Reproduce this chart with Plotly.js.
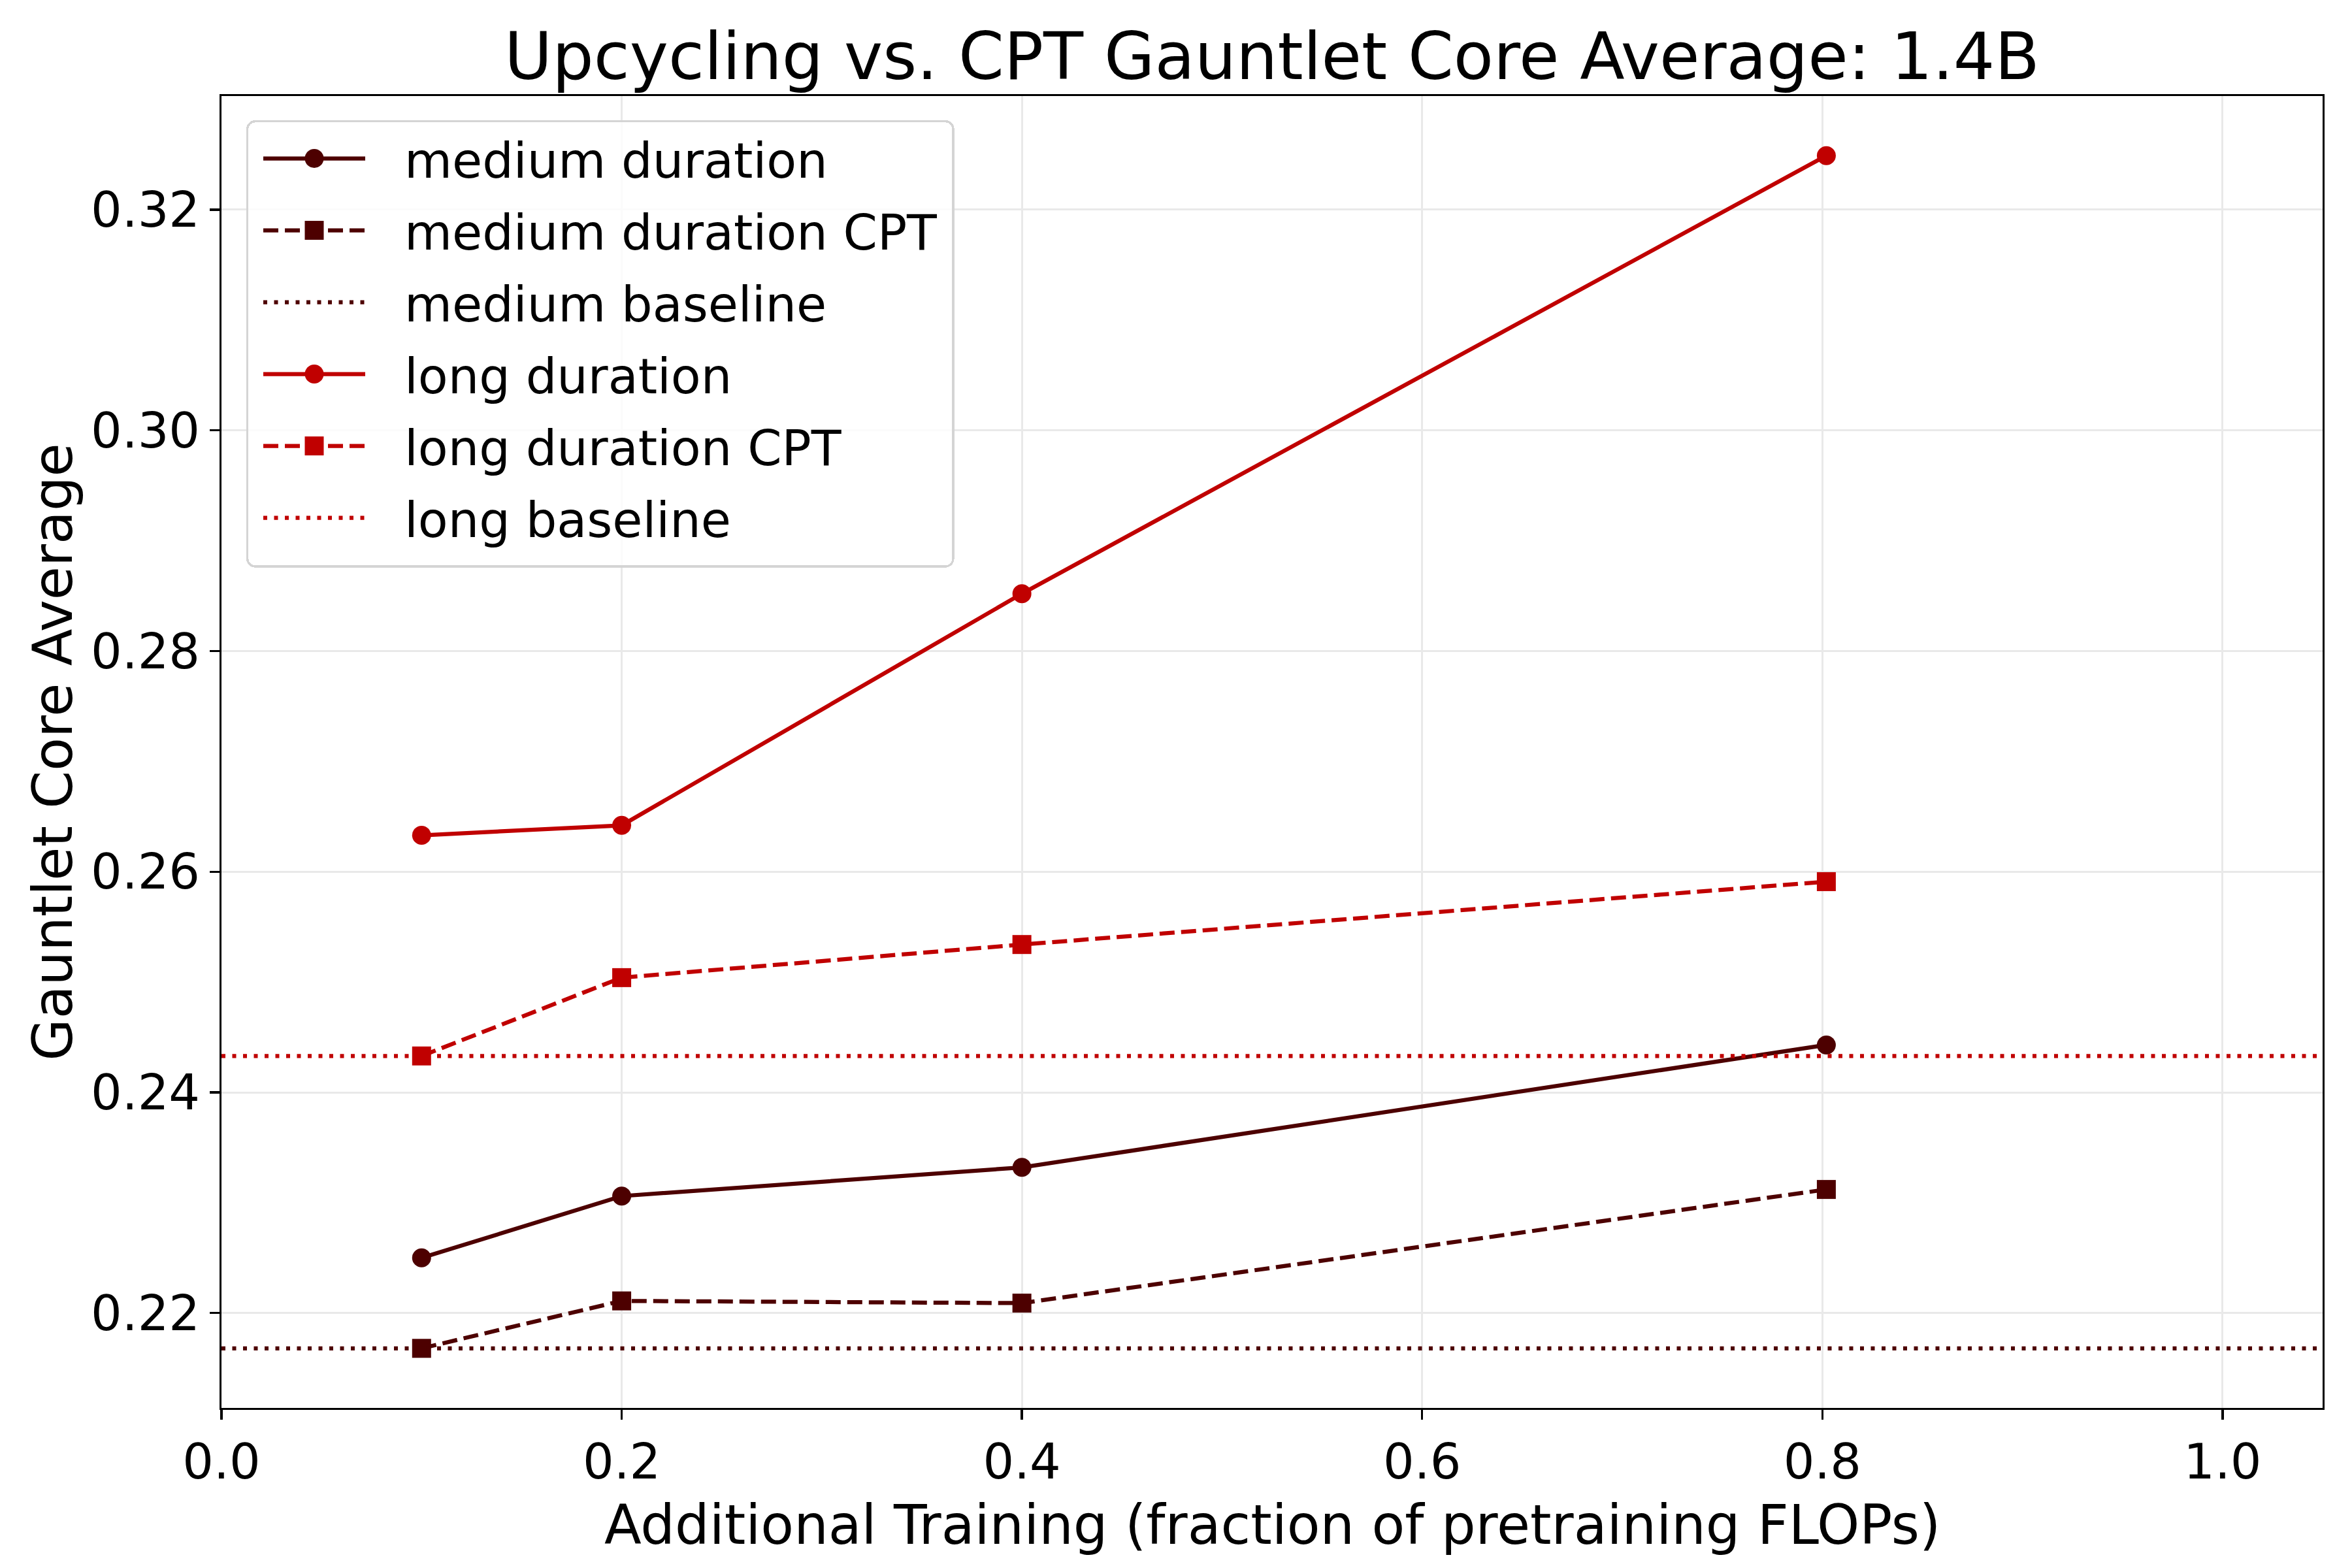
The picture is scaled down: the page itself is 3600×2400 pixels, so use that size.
<!DOCTYPE html>
<html>
<head>
<meta charset="utf-8">
<script src="https://cdn.plot.ly/plotly-3.0.1.min.js"></script>
<style>
  html, body { margin: 0; padding: 0; background: #ffffff; }
  #chart { width: 3600px; height: 2400px; }
</style>
</head>
<body>
<div id="chart"></div>
<script>
// ---- data ----
const xMedium = [0.1, 0.2, 0.4, 0.802];
const mediumDuration = [0.2250, 0.2306, 0.2332, 0.2443];
const mediumDurationCPT = [0.2168, 0.2211, 0.2209, 0.2312];
const mediumBaseline = 0.2168;

const xLong = [0.1, 0.2, 0.4, 0.802];
const longDuration = [0.2633, 0.2642, 0.2852, 0.3249];
const longDurationCPT = [0.2433, 0.2504, 0.2534, 0.2591];
const longBaseline = 0.2433;

const seriesNames = ["medium duration", "medium duration CPT", "medium baseline",
                     "long duration", "long duration CPT", "long baseline"];
const xTicks = [0.0, 0.2, 0.4, 0.6, 0.8, 1.0];
const yTicks = [0.22, 0.24, 0.26, 0.28, 0.30, 0.32];

const titleText = "Upcycling vs. CPT Gauntlet Core Average: 1.4B";
const xTitle = "Additional Training (fraction of pretraining FLOPs)";
const yTitle = "Gauntlet Core Average";

// ---- styles ----
const MED = "#4d0000";
const LONG = "#c00000";
const LW = 6.25;
const DASH = "23px,10px";
const DOT = "6px,10.5px";
const MS = 29;
const FONT = "DejaVu Sans, Liberation Sans, sans-serif";

function lineTrace(x, y, name, color, dash, symbol, grp) {
  return {
    type: "scatter", mode: "lines+markers", x: x, y: y, name: name,
    legendgroup: grp,
    line: {color: color, width: LW, dash: dash},
    marker: {color: color, size: MS, symbol: symbol, line: {width: 0}},
    hoverinfo: "skip"
  };
}
function legendOnly(name, color, grp) {
  return {
    type: "scatter", mode: "lines", x: [null], y: [null], name: name,
    legendgroup: grp,
    line: {color: color, width: LW, dash: DOT},
    hoverinfo: "skip"
  };
}

const traces = [
  lineTrace(xMedium, mediumDuration, seriesNames[0], MED, "solid", "circle", "g1"),
  lineTrace(xMedium, mediumDurationCPT, seriesNames[1], MED, DASH, "square", "g2"),
  legendOnly(seriesNames[2], MED, "g3"),
  lineTrace(xLong, longDuration, seriesNames[3], LONG, "solid", "circle", "g4"),
  lineTrace(xLong, longDurationCPT, seriesNames[4], LONG, DASH, "square", "g5"),
  legendOnly(seriesNames[5], LONG, "g6")
];

function baselineShape(yv, color) {
  return {
    type: "line", xref: "x domain", x0: 0, x1: 1, yref: "y", y0: yv, y1: yv,
    line: {color: color, width: LW, dash: DOT}, layer: "above"
  };
}

const W = 3600, H = 2400;
const L = 339, R = 45, T = 147, B = 245;
const PH = H - T - B;

const layout = {
  width: W, height: H,
  paper_bgcolor: "#ffffff", plot_bgcolor: "#ffffff",
  margin: {l: L, r: R, t: T, b: B, pad: 0},
  font: {family: FONT, color: "#000000", size: 75},
  showlegend: true,
  title: {
    text: titleText, font: {family: FONT, size: 100, color: "#000000"},
    x: 0.5, xref: "paper", xanchor: "center",
    y: 1 - 86 / H, yref: "container", yanchor: "middle"
  },
  xaxis: {
    range: [0, 1.05], tickvals: xTicks, tickformat: ".1f",
    showgrid: true, gridcolor: "#e9e9e9", gridwidth: 3,
    zeroline: false, showline: true, linecolor: "#000000", linewidth: 3.3, mirror: true,
    ticks: "outside", ticklen: 14.6, tickwidth: 3.3, tickcolor: "#000000",
    tickfont: {family: FONT, size: 75, color: "#000000"},
    automargin: false
  },
  yaxis: {
    range: [0.2114, 0.3303], tickvals: yTicks, tickformat: ".2f",
    showgrid: true, gridcolor: "#e9e9e9", gridwidth: 3,
    zeroline: false, showline: true, linecolor: "#000000", linewidth: 3.3, mirror: true,
    ticks: "outside", ticklen: 14.6, tickwidth: 3.3, tickcolor: "#000000",
    tickfont: {family: FONT, size: 75, color: "#000000"},
    title: {text: yTitle, font: {family: FONT, size: 83, color: "#000000"}, standoff: 2},
    automargin: false
  },
  annotations: [{
    text: xTitle, showarrow: false,
    xref: "paper", x: 0.5, xanchor: "center",
    yref: "paper", y: (PH - (2334 - T)) / PH, yanchor: "middle",
    font: {family: FONT, size: 83, color: "#000000"}
  }],
  legend: {
    x: 38 / (W - L - R), y: 1 - 37 / PH, xref: "paper", yref: "paper",
    xanchor: "left", yanchor: "top",
    bgcolor: "rgba(255,255,255,0.8)", bordercolor: "#d4d4d4", borderwidth: 3.3,
    font: {family: FONT, size: 75, color: "#000000"},
    itemwidth: 222, tracegroupgap: 9.5, traceorder: "grouped",
    itemclick: false, itemdoubleclick: false
  },
  shapes: [baselineShape(mediumBaseline, MED), baselineShape(longBaseline, LONG)]
};

// matplotlib-like legend handles: long line, full-size marker, text after a gap
const LEG = {lineStart: 403, lineLen: 156, textX: 619, boxRight: 1459, boxBottom: 867};
const R2 = MS / 2;
const CIRCLE = "M" + R2 + ",0A" + R2 + "," + R2 + " 0 1,1 0,-" + R2 + "A" + R2 + "," + R2 + " 0 0,1 " + R2 + ",0Z";
const SQUARE = "M" + R2 + "," + R2 + "H-" + R2 + "V-" + R2 + "H" + R2 + "Z";

function restyleLegend() {
  const root = document.getElementById("chart");
  const legend = root.querySelector("g.legend");
  if (!legend) return;
  const sb = legend.querySelector("g.scrollbox");
  if (sb) sb.removeAttribute("clip-path");
  const svgBox = root.querySelector("svg.main-svg").getBoundingClientRect();
  const items = legend.querySelectorAll("g.traces");
  const symbols = ["circle", "square", null, "circle", "square", null];
  items.forEach(function (item, i) {
    const ox = item.getScreenCTM().e - svgBox.left;
    const ln = item.querySelector("path.js-line");
    if (ln) ln.setAttribute("d", "M" + (LEG.lineStart - ox) + ",0h" + LEG.lineLen);
    const cx = LEG.lineStart + LEG.lineLen / 2 - ox;
    item.querySelectorAll("g.legendpoints path.scatterpts").forEach(function (p) {
      p.setAttribute("transform", "translate(" + cx + ",0)");
      const sym = symbols[i];
      if (sym) p.setAttribute("d", sym === "circle" ? CIRCLE : SQUARE);
    });
    const tx = item.querySelector("text.legendtext");
    if (tx) {
      tx.setAttribute("x", LEG.textX - ox);
      tx.querySelectorAll("tspan.line").forEach(function (t) { t.setAttribute("x", LEG.textX - ox); });
    }
  });
  const bg = legend.querySelector("rect.bg");
  if (bg) {
    const bb = bg.getBoundingClientRect();
    const w = parseFloat(bg.getAttribute("width"));
    const h = parseFloat(bg.getAttribute("height"));
    bg.setAttribute("width", w + (LEG.boxRight - (bb.right - svgBox.left)));
    bg.setAttribute("height", h + (LEG.boxBottom - (bb.bottom - svgBox.top)));
    bg.setAttribute("rx", 12); bg.setAttribute("ry", 12);
  }
}

Plotly.newPlot("chart", traces, layout, {staticPlot: true, displayModeBar: false}).then(restyleLegend);
</script>
</body>
</html>
